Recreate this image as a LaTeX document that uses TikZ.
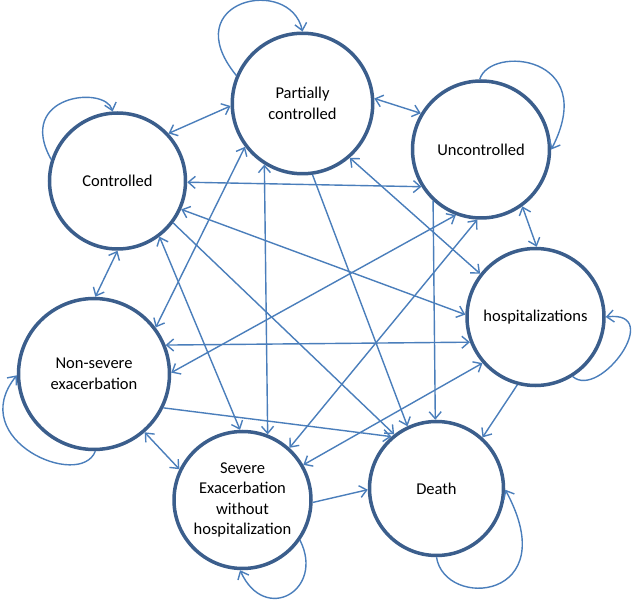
\documentclass[tikz,border=0pt]{standalone}
\usepackage{fontspec}
\setmainfont{Carlito}
\usetikzlibrary{arrows.meta}
\definecolor{circblue}{RGB}{59,94,140}
\definecolor{connblue}{RGB}{74,126,187}
\tikzset{
  state/.style={circle, draw=circblue, line width=3.5pt, fill=white, inner sep=0pt,
    align=center, font=\fontsize{16.5}{20.5}\selectfont},
  conn/.style={draw=connblue, line width=1.4pt},
  >={Straight Barb[length=7pt,width=12pt]}
}
\begin{document}
\begin{tikzpicture}[x=1pt,y=-1pt]
\useasboundingbox[fill=white] (0,0) rectangle (638,604);
\node[state, minimum size=136pt] (C) at (117.5,181) {Controlled};
\node[state, minimum size=140.5pt] (P) at (302.5,103.5) {Partially\\controlled};
\node[state, minimum size=137pt] (U) at (481,149.5) {Uncontrolled};
\node[state, minimum size=137pt] (H) at (535.5,317) {hospitalizations};
\node[state, minimum size=151pt] (N) at (94,374) {Non-severe\\exacerbation};
\node[state, minimum size=137pt] (S) at (242.5,500) {Severe\\Exacerbation\\without\\hospitalization};
\node[state, minimum size=134pt] (D) at (436.5,488.5) {Death};

\begin{scope}[conn]
\draw[<->] (C.43) -- (P.182);
\draw[<->] (P.4) -- (U.149);
\draw[<->] (U.-54) -- (H.89);
\draw[<->] (C.-90) -- (N.89);
\draw[<->] (N.-49) -- (S.154);
\draw[<->] (P.-49) -- (H.142);
\draw[<->] (C.-1) -- (U.-148);
\draw[<->] (C.-24) -- (H.178);
\draw[<->] (P.-143) -- (N.37);
\draw[<->] (P.-122) -- (S.69);
\draw[->] (P.-82) -- (D.115);
\draw[<->] (N.1) -- (U.-111);
\draw[<->] (S.48) -- (U.-93);
\draw[->] (U.-133) -- (D.91);
\draw[->] (C.-37) -- (D.128);
\draw[<->] (C.-53) -- (S.92);
\draw[<->] (N.22) -- (H.-159);
\draw[->] (N.-26) -- (D.131);
\draw[<->] (S.30) -- (H.-139);
\draw[->] (S.-2) -- (D.181);
\draw[->] (H.-105) -- (D.48);

\draw[->] (C.162) .. controls (15,95) and (105,85) .. (C.94);
\draw[->] (P.157) .. controls (175,0) and (290,-25) .. (P.90);
\draw[->] (U.91) .. controls (490,45) and (600,55) .. (U.0);
\draw[->] (H.-58) .. controls (600,400) and (665,310) .. (H.0);
\draw[->] (N.-89) .. controls (80,490) and (-35,440) .. (N.181);
\draw[->] (S.-35) .. controls (325,590) and (265,625) .. (S.-92);
\draw[->] (D.-90) .. controls (445,610) and (565,600) .. (D.-1);
\end{scope}
\end{tikzpicture}
\end{document}
